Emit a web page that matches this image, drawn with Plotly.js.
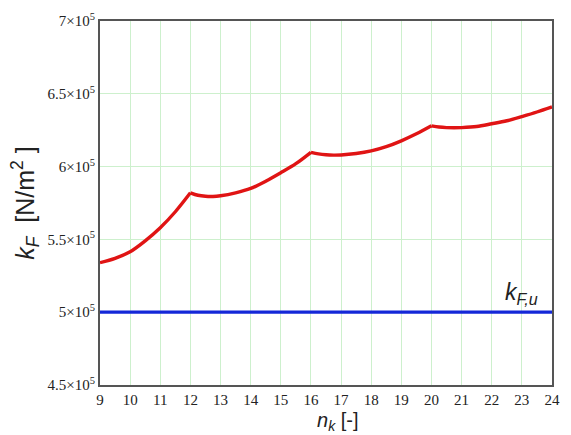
<!DOCTYPE html>
<html>
<head>
<meta charset="utf-8">
<script src="https://cdn.plot.ly/plotly-3.0.1.min.js"></script>
<style>html,body{margin:0;padding:0;background:#fff;}#chart{width:571px;height:435px;}</style>
</head>
<body>
<div id="chart"></div>
<script>
// n_k values (x) and k_F values (y, N/m^2)
const nk = [9, 9.5, 10, 10.5, 11, 11.5, 12, 12.25, 12.5, 12.75, 13, 13.5, 14, 14.5, 15, 15.5, 16, 16.25, 16.5, 16.75, 17, 17.5, 18, 18.5, 19, 19.5, 20, 20.25, 20.5, 20.75, 21, 21.5, 22, 22.5, 23, 23.5, 24];
const kF = [534000, 537000, 541500, 549000, 558000, 569000, 582000, 580300, 579600, 579500, 580000, 582000, 585000, 590000, 595800, 602000, 609800, 608700, 608100, 607900, 608000, 609000, 610800, 613700, 617700, 622500, 628000, 627200, 626800, 626700, 626800, 627500, 629400, 631500, 634400, 637500, 641000];
// break points of the curve (slope changes)
const breaks = [12, 16, 20];
// limit value
const kFu = 500000;
const kFuLabel = "<i>k</i><sub><i>F,u</i></sub>";
const xTitle = '<i>n</i><sub><i>k</i></sub> [-]';
const yTitle = '<i>k</i><sub><i>F</i></sub>  [N/m<sup>2</sup> ]';
const xTicks = [9,10,11,12,13,14,15,16,17,18,19,20,21,22,23,24];
const yTickVals = [450000, 500000, 550000, 600000, 650000, 700000];
const yTickText = ["4.5×10<sup>5</sup>", "5×10<sup>5</sup>", "5.5×10<sup>5</sup>", "6×10<sup>5</sup>", "6.5×10<sup>5</sup>", "7×10<sup>5</sup>"];

// split curve into smooth segments between break points
const bounds = [nk[0]].concat(breaks, [nk[nk.length-1]]);
const traces = [];
for (let s = 0; s < bounds.length - 1; s++) {
  const xs = [], ys = [];
  nk.forEach((v, i) => { if (v >= bounds[s] && v <= bounds[s+1]) { xs.push(v); ys.push(kF[i]); } });
  traces.push({x: xs, y: ys, mode: 'lines', line: {color: '#e01414', width: 3.4, shape: 'spline', smoothing: 0.9}, hoverinfo: 'none'});
}
traces.push({x: [xTicks[0], xTicks[xTicks.length-1]], y: [kFu, kFu], mode: 'lines', line: {color: '#1428d8', width: 3.2}, hoverinfo: 'none'});

const sans = '"Liberation Sans", Arial, sans-serif';
const layout = {
  width: 571, height: 435,
  margin: {l: 100, r: 19, t: 21, b: 50},
  paper_bgcolor: '#ffffff', plot_bgcolor: '#ffffff',
  showlegend: false,
  font: {family: '"Liberation Serif", "Times New Roman", serif', color: '#222'},
  xaxis: {
    range: [9, 24], tickvals: xTicks, ticks: '', ticklen: 0,
    showgrid: true, gridcolor: '#cdf0cd', gridwidth: 1,
    showline: true, linecolor: '#555', linewidth: 2, mirror: true,
    zeroline: false, tickfont: {size: 15, family: '"Liberation Serif", serif', color: '#222'}
  },
  yaxis: {
    range: [450000, 700000], tickvals: yTickVals, ticktext: yTickText, ticks: '',
    showgrid: true, gridcolor: '#cdf0cd', gridwidth: 1,
    showline: true, linecolor: '#555', linewidth: 2, mirror: true,
    zeroline: false, tickfont: {size: 15, family: '"Liberation Serif", serif', color: '#222'},
    title: {text: yTitle, font: {size: 25, family: sans, color: '#222'}, standoff: 6}
  },
  annotations: [
    {x: 23.0, y: kFu, xref: 'x', yref: 'y', text: kFuLabel, showarrow: false, yanchor: 'bottom', yshift: 2,
     font: {size: 23, family: sans, color: '#222'}},
    {x: 0.525, y: 0, xref: 'paper', yref: 'paper', text: xTitle, showarrow: false, yanchor: 'bottom', yshift: -50,
     borderpad: 0, font: {size: 20, family: sans, color: '#222'}}
  ]
};

Plotly.newPlot('chart', traces, layout, {staticPlot: true, displayModeBar: false});
</script>
</body>
</html>
